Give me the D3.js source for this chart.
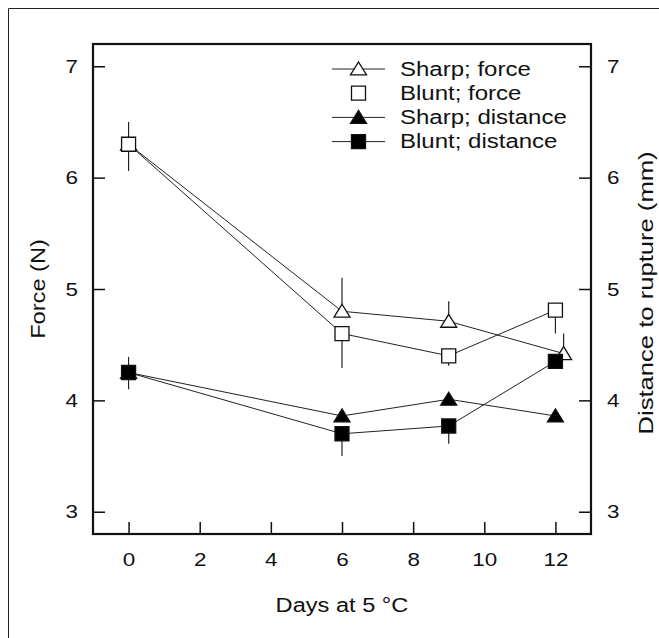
<!DOCTYPE html>
<html>
<head>
<meta charset="utf-8">
<script src="https://cdn.jsdelivr.net/npm/d3@7"></script>
<style>
  body { margin: 0; background: #fff; }
  text { font-family: "Liberation Sans", Arial, sans-serif; fill: #111; }
  .frame { fill: none; stroke: #111; stroke-width: 2.2; }
  .tick line { stroke: #111; stroke-width: 1.5; }
  .series-line { fill: none; stroke: #222; stroke-width: 1; }
  .err { stroke: #222; stroke-width: 1.2; }
</style>
</head>
<body>
<svg id="chart" width="659" height="638"></svg>
<script>
// data

let days = [0, 6, 9, 12];
let xTicks = [0, 2, 4, 6, 8, 10, 12];
let yTicks = [3, 4, 5, 6, 7];

// x position of each point (sharp force at day 12 is nudged right in the original)
let sharpForceX = [0, 6, 9, 12.23];
let sharpForce = [6.3, 4.8, 4.71, 4.42];
let sharpForceErr = [6.5, 5.1, 4.89, 4.6];   // upper ends

let bluntForceX = [0, 6, 9, 12];
let bluntForce = [6.3, 4.6, 4.4, 4.81];
let bluntForceErr = [6.06, 4.29, 4.31, 4.6];  // lower ends

let sharpDistX = [0, 6, 9, 12];
let sharpDist = [4.25, 3.86, 4.01, 3.86];
let sharpDistErr = [4.39, 3.86, 4.01, 3.86];  // upper ends

let bluntDistX = [0, 6, 9, 12];
let bluntDist = [4.25, 3.7, 3.77, 4.35];
let bluntDistErr = [4.1, 3.5, 3.61, 4.35];    // lower ends

let legendLabels = ["Sharp; force", "Blunt; force", "Sharp; distance", "Blunt; distance"];

// layout

let plotLeft = 93, plotRight = 591, plotTop = 44, plotBottom = 534;
let tickLen = 12;
let stretch = 1.18;   // the original lettering is wider than Arial

let x = d3.scaleLinear().domain([-1, 13]).range([plotLeft, plotRight]);
let yLeft = d3.scaleLinear().domain([2.8, 7.2]).range([plotBottom, plotTop]);
let yRight = d3.scaleLinear().domain([2.8, 7.2]).range([plotBottom, plotTop]);

let svg = d3.select("#chart");

// stretch a text element along its writing direction
function widen(sel, k = stretch) {
  sel.each(function() {
    let w = this.getComputedTextLength();
    d3.select(this)
        .attr("textLength", w * k)
        .attr("lengthAdjust", "spacingAndGlyphs");
  });
}

// outer border (only top and left edges are inside the picture)
svg.append("path")
    .attr("d", "M8.5,638V8.5H659")
    .attr("fill", "none")
    .attr("stroke", "#222")
    .attr("stroke-width", 1);

// markers

function triangle(cx, cy) {
  let w = 8, h = 7;
  return `M${cx},${cy - h}L${cx + w},${cy + h * 0.85}L${cx - w},${cy + h * 0.85}Z`;
}

function square(cx, cy) {
  let s = 7;
  return `M${cx - s},${cy - s}h${2 * s}v${2 * s}h${-2 * s}Z`;
}

let series = [
  {xs: sharpForceX, ys: sharpForce, err: sharpForceErr, y: yLeft, shape: triangle, fill: "#fff"},
  {xs: bluntForceX, ys: bluntForce, err: bluntForceErr, y: yLeft, shape: square, fill: "#fff"},
  {xs: sharpDistX, ys: sharpDist, err: sharpDistErr, y: yRight, shape: triangle, fill: "#000"},
  {xs: bluntDistX, ys: bluntDist, err: bluntDistErr, y: yRight, shape: square, fill: "#000"}
];

let plot = svg.append("g").attr("class", "plot");

// connecting lines
series.forEach(s => {
  let line = d3.line()
      .x(d => x(s.xs[d]))
      .y(d => s.y(s.ys[d]));
  plot.append("path")
      .attr("class", "series-line")
      .attr("d", line(d3.range(days.length)));
});

// error bars
series.forEach(s => {
  plot.selectAll(null)
      .data(d3.range(days.length))
      .join("line")
      .attr("class", "err")
      .attr("x1", d => x(s.xs[d]))
      .attr("x2", d => x(s.xs[d]))
      .attr("y1", d => s.y(s.ys[d]))
      .attr("y2", d => s.y(s.err[d]));
});

// symbols
series.forEach(s => {
  plot.selectAll(null)
      .data(d3.range(days.length))
      .join("path")
      .attr("d", d => s.shape(x(s.xs[d]), s.y(s.ys[d])))
      .attr("fill", s.fill)
      .attr("stroke", "#111")
      .attr("stroke-width", 1.3);
});

// axes

let fmt = d3.format("d");

let bottomAxis = svg.append("g")
    .attr("transform", `translate(0,${plotBottom})`)
    .call(d3.axisBottom(x).tickValues(xTicks).tickFormat(fmt)
      .tickSizeInner(-tickLen).tickSizeOuter(0).tickPadding(19));

let leftAxis = svg.append("g")
    .attr("transform", `translate(${plotLeft},0)`)
    .call(d3.axisLeft(yLeft).tickValues(yTicks).tickFormat(fmt)
      .tickSizeInner(-tickLen).tickSizeOuter(0).tickPadding(15));

let rightAxis = svg.append("g")
    .attr("transform", `translate(${plotRight},0)`)
    .call(d3.axisRight(yRight).tickValues(yTicks).tickFormat(fmt)
      .tickSizeInner(-tickLen).tickSizeOuter(0).tickPadding(16));

[bottomAxis, leftAxis, rightAxis].forEach(a => {
  a.select(".domain").remove();
  a.selectAll("text")
      .style("font-size", "19px")
      .attr("fill", "#111")
      .call(widen);
});

// the plot frame
svg.append("rect")
    .attr("class", "frame")
    .attr("x", plotLeft)
    .attr("y", plotTop)
    .attr("width", plotRight - plotLeft)
    .attr("height", plotBottom - plotTop);

// axis titles

svg.append("text")
    .attr("x", (plotLeft + plotRight) / 2)
    .attr("y", 612)
    .attr("text-anchor", "middle")
    .style("font-size", "20px")
    .text("Days at 5 °C")
    .call(widen);

svg.append("text")
    .attr("transform", `translate(45,${(plotTop + plotBottom) / 2}) rotate(-90)`)
    .attr("text-anchor", "middle")
    .style("font-size", "20px")
    .text("Force (N)")
    .call(widen);

svg.append("text")
    .attr("transform", `translate(653,${(plotTop + plotBottom) / 2 + 4}) rotate(-90)`)
    .attr("text-anchor", "middle")
    .style("font-size", "20px")
    .text("Distance to rupture (mm)")
    .call(widen, 1.28);

// legend

let legendShapes = [triangle, square, triangle, square];
let legendFills = ["#fff", "#fff", "#000", "#000"];
let legendLines = [true, false, true, true];

let legend = svg.append("g")
    .attr("transform", "translate(332,69)");

legendLabels.forEach((label, i) => {
  let row = legend.append("g")
      .attr("transform", `translate(0,${i * 24.2})`);

  if (legendLines[i]) {
    row.append("line")
        .attr("x1", 0)
        .attr("x2", 53)
        .attr("stroke", "#222")
        .attr("stroke-width", 1);
  }

  row.append("path")
      .attr("d", legendShapes[i](26.5, 0))
      .attr("fill", legendFills[i])
      .attr("stroke", "#111")
      .attr("stroke-width", 1.3);

  row.append("text")
      .attr("x", 68)
      .attr("y", 6.5)
      .style("font-size", "20px")
      .text(label)
      .call(widen, 1.2);
});
</script>
</body>
</html>
